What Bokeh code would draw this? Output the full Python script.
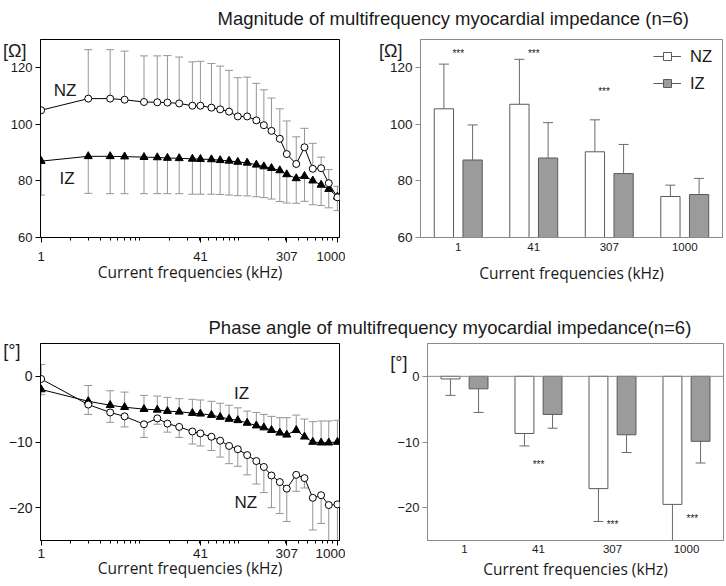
import numpy as np
from bokeh.plotting import figure
from bokeh.layouts import column, row
from bokeh.models import (Range1d, FixedTicker, PrintfTickFormatter,
                          LinearAxis, Legend, LegendItem, Span)
from bokeh.core.properties import value
from bokeh.embed import file_html
from bokeh.resources import INLINE

# ---------------- data ----------------
freqs = [1, 3, 5, 7, 11, 15, 19, 25, 34, 41, 53, 65, 80, 98, 122, 151, 180,
         215, 261, 307, 383, 464, 563, 684, 817, 1000]

mag_nz = [105.0, 109.1, 109.1, 108.7, 107.9, 107.8, 107.7, 107.4, 106.6, 106.6,
          105.9, 105.3, 104.5, 102.8, 102.8, 101.4, 99.7, 97.7, 94.9, 89.5,
          86.0, 91.9, 84.3, 84.5, 79.2, 74.2]
mag_nz_err = [np.nan, 126.4, 126.4, 125.9, 124.2, 124.2, 124.3, 123.8, 122.1,
              122.3, 121.5, 120.6, 119.1, 116.5, 116.7, 114.5, 112.2, 109.3,
              105.5, 101.2, 95.6, 98.6, 93.3, 88.4, 84.0, 78.1]
mag_iz = [87.0, 88.7, 88.7, 88.6, 88.4, 88.3, 88.1, 88.0, 87.8, 87.7, 87.6,
          87.3, 87.1, 86.7, 86.4, 85.7, 85.1, 84.5, 83.7, 82.3, 80.9, 81.7,
          80.1, 78.6, 77.1, 74.4]
mag_iz_err = [75.0, 75.6, 75.5, 75.5, 75.5, 75.5, 75.5, 75.5, 75.3, 75.3, 75.3,
              75.2, 75.0, 74.8, 74.7, 74.4, 74.1, 73.6, 72.7, 72.2, 72.1, 72.8,
              71.6, 71.3, 70.5, 69.5]

ph_nz = [-0.4, -4.3, -5.5, -6.1, -7.3, -6.4, -7.2, -7.7, -8.4, -8.7, -9.2, -9.8,
         -10.6, -11.1, -12.0, -12.9, -13.8, -15.1, -16.1, -17.1, -15.0, -15.5,
         -18.5, -18.1, -19.6, -19.5]
ph_nz_err = [1.8, -5.8, -7.0, -7.7, -9.3, -7.3, -8.5, -9.3, -10.3, -10.6, -11.3,
             -12.3, -13.3, -13.7, -15.0, -16.4, -17.7, -20.0, -20.9, -22.1,
             -17.5, -17.0, -23.4, -22.4, -27.0, -27.0]
ph_iz = [-2.0, -3.8, -4.4, -4.7, -5.0, -5.1, -5.3, -5.4, -5.6, -5.7, -5.9, -6.2,
         -6.5, -6.7, -7.1, -7.5, -7.8, -8.2, -8.6, -8.9, -8.2, -9.2, -10.0,
         -10.1, -10.1, -10.0]
ph_iz_err = [-2.8, -1.4, -2.2, -2.4, -2.9, -3.0, -3.2, -3.4, -3.5, -3.6, -3.8,
             -4.1, -4.4, -4.8, -5.3, -5.5, -5.8, -6.1, -6.3, -6.3, -5.9, -6.5,
             -6.9, -6.8, -6.8, -6.7]

freq_ticks = [1, 41, 307, 1000]
freq_minor = [2, 3, 4, 5, 6, 7, 8, 9, 10, 20, 30, 40, 50, 60, 70, 80, 90, 100,
              200, 300, 400, 500, 600, 700, 800, 900]

bar_cats = ["1", "41", "307", "1000"]
bar_mag_nz = [105.5, 107.1, 90.3, 74.5]
bar_mag_nz_err = [121.3, 123.0, 101.6, 78.5]
bar_mag_iz = [87.4, 88.1, 82.6, 75.2]
bar_mag_iz_err = [99.8, 100.6, 92.9, 80.9]
bar_ph_nz = [-0.4, -8.7, -17.1, -19.5]
bar_ph_nz_err = [-2.9, -10.6, -22.1, -27.0]
bar_ph_iz = [-1.9, -5.8, -8.9, -9.9]
bar_ph_iz_err = [-5.5, -7.9, -11.6, -13.2]

mag_star_x = [0.0, 1.0, 1.93]
mag_star_y = [125.0, 125.0, 111.6]
ph_star_x = [1.0, 2.0, 3.08]
ph_star_y = [-13.4, -22.5, -21.6]

title_mag = "Magnitude of multifrequency myocardial impedance (n=6)"
title_ph = "Phase angle of multifrequency myocardial impedance(n=6)"
xlabel = "Current frequencies (kHz)"
unit_mag = "[Ω]"
unit_ph = "[°]"

# ---------------- styles ----------------
TICK_FONT = "Liberation Sans"
LABEL_FONT = "Open Sans"
TXT = "#1a1a1a"
ERR_L = "#959595"
GRAY_AX = "#8a8a8a"
BAR_LINE = "#5a5a5a"
BAR_FILL = "#9b9b9b"
ERR_B = "#6a6a6a"
LOG_RANGE = (0.985, 1050)


def style_axis(ax, color, size, tick_out=5, minor_out=0, standoff=4):
    ax.axis_line_color = color
    ax.major_tick_line_color = color
    ax.minor_tick_line_color = color
    ax.major_label_text_font = TICK_FONT
    ax.major_label_text_font_size = size
    ax.major_label_text_color = TXT
    ax.major_tick_in = 0
    ax.major_tick_out = tick_out
    ax.minor_tick_in = 0
    ax.minor_tick_out = minor_out
    ax.major_label_standoff = standoff


def set_xlabel(ax, standoff):
    ax.axis_label = xlabel
    ax.axis_label_text_font = LABEL_FONT
    ax.axis_label_text_font_size = "15.5px"
    ax.axis_label_text_font_style = "normal"
    ax.axis_label_text_color = TXT
    ax.axis_label_standoff = standoff


def unit_axis(p, yval, text, standoff):
    """outer left axis carrying only the unit text at the top of the y axis"""
    ax = LinearAxis(ticker=FixedTicker(ticks=[yval]),
                    major_label_overrides={yval: text})
    ax.axis_line_color = None
    ax.major_tick_out = 0
    ax.major_tick_in = 0
    ax.minor_tick_out = 0
    ax.minor_tick_in = 0
    ax.major_label_text_font = TICK_FONT
    ax.major_label_text_font_size = "18px"
    ax.major_label_text_color = TXT
    ax.major_label_standoff = standoff
    p.add_layout(ax, "left")


def err_bars(p, x, y, end, color, cap):
    x = np.asarray(x, float)
    p.segment(x0=x, y0=np.asarray(y, float), x1=x, y1=np.asarray(end, float),
              line_color=color, line_width=1)
    p.scatter(x=x, y=np.asarray(end, float), marker="dash", size=cap,
              line_color=color, line_width=1)


def base_fig(width, height, bl, br, bt, bb, **kw):
    p = figure(width=width, height=height, output_backend="svg",
               toolbar_location=None, min_border_left=bl, min_border_right=br,
               min_border_top=bt, min_border_bottom=bb, **kw)
    p.grid.visible = False
    p.background_fill_color = "white"
    p.border_fill_color = "white"
    return p


def line_plot(width, height, bl, br, bt, bb, y_rng, yticks, nz, nz_err, iz,
              iz_err, xstand, lstand, ysize, xsize):
    p = base_fig(width, height, bl, br, bt, bb, x_axis_type="log",
                 x_range=Range1d(*LOG_RANGE), y_range=Range1d(*y_rng))
    p.outline_line_color = "black"
    p.outline_line_alpha = 1
    p.xaxis.ticker = FixedTicker(ticks=freq_ticks, minor_ticks=freq_minor)
    p.xaxis.formatter = PrintfTickFormatter(format="%d")
    p.yaxis.ticker = FixedTicker(ticks=yticks)
    style_axis(p.xaxis[0], "black", xsize, 5, 3, xstand)
    style_axis(p.yaxis[0], "black", ysize, 5, 0, 3)
    set_xlabel(p.xaxis[0], lstand)
    err_bars(p, freqs, nz, nz_err, ERR_L, 8)
    err_bars(p, freqs, iz, iz_err, ERR_L, 8)
    p.line(freqs, nz, line_color="black", line_width=1)
    p.line(freqs, iz, line_color="black", line_width=1)
    p.scatter(freqs, iz, marker="triangle", size=8, fill_color="black",
              line_color="black")
    p.scatter(freqs, nz, marker="circle", size=7, fill_color="white",
              line_color="black", line_width=1)
    return p


def bar_plot(width, height, bl, br, bt, bb, y_rng, yticks, nz, nz_err, iz,
             iz_err, positive, xstand, lstand, ysize):
    p = base_fig(width, height, bl, br, bt, bb,
                 x_range=Range1d(-0.5, 3.5), y_range=Range1d(*y_rng))
    p.outline_line_color = GRAY_AX
    p.outline_line_alpha = 1
    xs = np.arange(len(bar_cats), dtype=float)
    p.xaxis.ticker = FixedTicker(ticks=list(xs))
    p.xaxis.major_label_overrides = {int(i): c for i, c in enumerate(bar_cats)}
    p.yaxis.ticker = FixedTicker(ticks=yticks)
    style_axis(p.xaxis[0], GRAY_AX, "11.5px", 0, 0, xstand)
    style_axis(p.yaxis[0], GRAY_AX, ysize, 5, 0, 3)
    set_xlabel(p.xaxis[0], lstand)
    off, w = 0.19, 0.255
    err_bars(p, xs - off, nz, nz_err, ERR_B, 10)
    err_bars(p, xs + off, iz, iz_err, ERR_B, 10)
    base = y_rng[0] if positive else 0
    p.vbar(x=xs - off, top=nz, bottom=base, width=w, fill_color="white",
           line_color=BAR_LINE, line_width=1)
    p.vbar(x=xs + off, top=iz, bottom=base, width=w, fill_color=BAR_FILL,
           line_color=BAR_LINE, line_width=1)
    return p


def title_fig(w, h, x, y, text):
    t = figure(width=w, height=h, x_range=Range1d(0, w),
               y_range=Range1d(h, 0), output_backend="svg",
               toolbar_location=None, min_border=0, x_axis_type=None,
               y_axis_type=None)
    t.outline_line_color = None
    t.grid.visible = False
    t.text(x=[x], y=[y], text=[text], text_font=value(TICK_FONT),
           text_font_size="18.5px", text_color=TXT,
           text_baseline="alphabetic", text_align="left")
    return t


def series_text(p, x, y, text):
    p.text(x=[x], y=[y], text=[text], text_font=value(TICK_FONT),
           text_font_size="17px", text_color=TXT, text_align="center",
           text_baseline="middle")


W_L, W_R = 345, 380
W = W_L + W_R

# ---------------- top row: magnitude ----------------
t1 = title_fig(W, 34, 217, 18.3, title_mag)

p1 = line_plot(W_L, 272, 39, 6, 5, 68, (60, 130), [60, 80, 100, 120],
               mag_nz, mag_nz_err, mag_iz, mag_iz_err, 9, -3, "13px", "13px")
series_text(p1, 1.75, 112.0, "NZ")
series_text(p1, 1.83, 80.7, "IZ")
unit_axis(p1, 126, unit_mag, -19)

p2 = bar_plot(W_R, 272, 75, 3, 3, 69, (60, 130), [60, 80, 100, 120],
              bar_mag_nz, bar_mag_nz_err, bar_mag_iz, bar_mag_iz_err, True, 5,
              8, "13.5px")
p2.text(x=mag_star_x, y=mag_star_y, text=["***"] * len(mag_star_x),
        text_font=value(TICK_FONT), text_font_size="10px", text_color=TXT,
        text_align="center", text_baseline="middle")
unit_axis(p2, 126, unit_mag, -16)
hid_x, hid_y = [-5.0, -4.0], [0.0, 0.0]   # off-range: legend swatches only
ln_nz = p2.line(x=hid_x, y=hid_y, line_color=BAR_LINE, line_width=1)
sq_nz = p2.scatter(x=hid_x, y=hid_y, marker="square", size=12,
                   fill_color="white", line_color=BAR_LINE)
ln_iz = p2.line(x=hid_x, y=hid_y, line_color=BAR_LINE, line_width=1)
sq_iz = p2.scatter(x=hid_x, y=hid_y, marker="square", size=12,
                   fill_color=BAR_FILL, line_color=BAR_LINE)
leg = Legend(items=[LegendItem(label="NZ", renderers=[ln_nz, sq_nz]),
                    LegendItem(label="IZ", renderers=[ln_iz, sq_iz])],
             location=(233, 144), padding=0, margin=0, spacing=7,
             glyph_width=28, glyph_height=20, label_height=20,
             label_standoff=9, border_line_color=None,
             background_fill_alpha=0, label_text_font=TICK_FONT,
             label_text_font_size="16.5px", label_text_color=TXT)
p2.add_layout(leg)

# ---------------- bottom row: phase ----------------
t2 = title_fig(W, 34, 208, 21.3, title_ph)

p3 = line_plot(W_L, 245, 40, 6, 3, 43, (-25, 5), [-20, -10, 0],
               ph_nz, ph_nz_err, ph_iz, ph_iz_err, 3, -4, "14px", "13.5px")
series_text(p3, 107, -2.6, "IZ")
series_text(p3, 118, -19.2, "NZ")
unit_axis(p3, 4, unit_ph, -15)

p4 = bar_plot(W_R, 245, 82, 2, 3, 45, (-25, 5), [-20, -10, 0],
              bar_ph_nz, bar_ph_nz_err, bar_ph_iz, bar_ph_iz_err, False, 4,
              2, "13px")
p4.add_layout(Span(location=0, dimension="width", line_color=GRAY_AX,
                   line_width=1))
p4.text(x=ph_star_x, y=ph_star_y, text=["***"] * len(ph_star_x),
        text_font=value(TICK_FONT), text_font_size="10px", text_color=TXT,
        text_align="center", text_baseline="middle")
unit_axis(p4, 2, unit_ph, -13)

root = column(t1, row(p1, p2, spacing=0), t2, row(p3, p4, spacing=0),
              spacing=0)

open("out.html", "w").write(file_html(root, INLINE))
